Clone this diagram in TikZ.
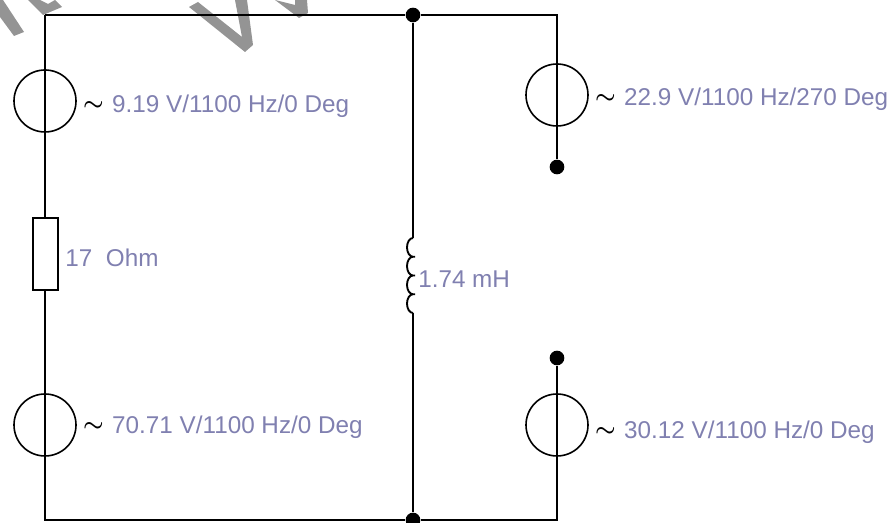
\documentclass[tikz,border=0pt]{standalone}
\usepackage{fontspec}
\setmainfont{Liberation Sans}
\usetikzlibrary{positioning}
\definecolor{labelblue}{RGB}{128,128,176}
\tikzstyle{wire} = [draw, line width=1.5pt]
\tikzstyle{source} = [circle, draw, line width=1.2pt, minimum size=46.5pt, inner sep=0pt]
\tikzstyle{resistor} = [rectangle, draw, line width=1.5pt, minimum width=18.75pt, minimum height=54pt, inner sep=0pt]
\tikzstyle{dot} = [circle, fill=black, minimum size=11pt, inner sep=0pt]
\tikzstyle{wave} = [inner sep=0pt, font=\fontsize{19}{20}\selectfont\boldmath]
\tikzstyle{value} = [inner sep=0pt, text=labelblue, font=\fontsize{18.2}{20}\selectfont]

\begin{document}
\begin{tikzpicture}[x=0.75pt, y=0.75pt]
\useasboundingbox (0,0) rectangle (893,523);
% Watermark pieces
\fill [black!42] (0,506) -- (14,487) -- (24,491) -- (3,523) -- (0,523) -- cycle;
\fill [black!42] (28,523) -- (43,508) -- (62,516) -- (55,523) -- (48,519) -- (40,523) -- cycle;
\fill [black!42] (189,516) -- (198,521) -- (242,486) -- (235,523) -- (247,523) -- (253,478) -- (245,471) -- cycle;
\fill [black!42] (275,523) -- (295,518) -- (295,523) -- (307,523) -- (308,510) -- (299,505) -- cycle;
% Place nodes
\coordinate (tl) at (45,508);
\node [source, below of=tl, node distance=64.5pt] (vs1) {};
\node [resistor, below of=vs1, node distance=114.75pt] (res) {};
\node [source, below of=res, node distance=128.25pt] (vs2) {};
\coordinate [below of=vs2, node distance=71.25pt] (bl);
\node [dot, right of=tl, node distance=276pt] (jt) {};
\node [dot, right of=bl, node distance=276pt] (jb) {};
\coordinate [right of=tl, node distance=384pt] (tr);
\coordinate [right of=bl, node distance=384pt] (br);
\node [source, below of=tr, node distance=60pt] (vs3) {};
\node [dot, below of=vs3, node distance=54pt] (d1) {};
\node [source, above of=br, node distance=71.25pt] (vs4) {};
\node [dot, above of=vs4, node distance=50.25pt] (d2) {};
\coordinate [below of=jt, node distance=167.25pt] (indt);
\coordinate [below of=indt, node distance=56.25pt] (indb);
% Labels
\node [wave, right=4.5pt of vs1, yshift=-3.75pt] (w1) {$\sim$};
\node [wave, right=4.5pt of vs2, yshift=-1.5pt] (w2) {$\sim$};
\node [wave, right=4.5pt of vs3, yshift=-3pt] (w3) {$\sim$};
\node [wave, right=4.5pt of vs4, yshift=-5.25pt] (w4) {$\sim$};
\node [value, right=6pt of w1] (l1) {9.19 V/1100 Hz/0 Deg};
\node [value, right=6pt of w2] (l2) {70.71 V/1100 Hz/0 Deg};
\node [value, right=6pt of w3] (l3) {22.9 V/1100 Hz/270 Deg};
\node [value, right=6pt of w4] (l4) {30.12 V/1100 Hz/0 Deg};
\node [value, right=5pt of res, yshift=-2.75pt] (l5) {17\ \ Ohm};
\node [value, right=3.75pt of indt, yshift=-31pt] (l6) {1.74 mH};
% Wires
\path [wire] (tl) -- (jt) -- (tr) -- (vs3.north) -- (vs3.south) -- (d1);
\path [wire] (tl) -- (vs1.north) -- (vs1.south) -- (res.north);
\path [wire] (res.south) -- (vs2.north) -- (vs2.south) -- (bl) -- (jb) -- (br) -- (vs4.south) -- (vs4.north) -- (d2);
\path [wire] (jt) -- (indt);
\path [wire] (indb) -- (jb);
% Coil
\draw [line width=1.4pt] (indt) arc (90:270:6 and 9.375) -- ++(2,0) -- ++(-2,0)
  arc (90:270:6 and 9.375) -- ++(2,0) -- ++(-2,0)
  arc (90:270:6 and 9.375) -- ++(2,0) -- ++(-2,0)
  arc (90:270:6 and 9.375);
\end{tikzpicture}
\end{document}
